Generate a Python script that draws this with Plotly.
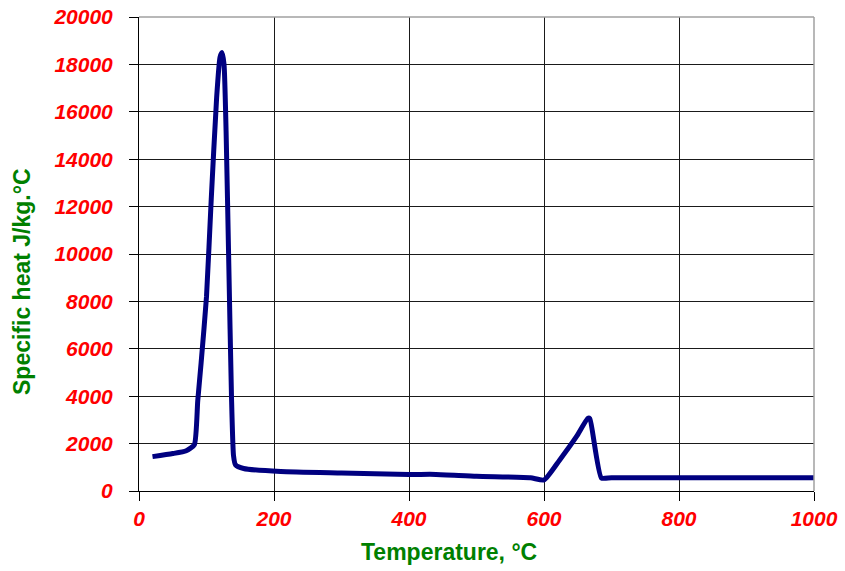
import plotly.graph_objects as go

temperature = [20, 50, 70, 82, 87, 92, 100, 107, 115, 120, 123, 126, 129, 133, 137, 140, 143, 155,
               210, 300, 400, 440, 500, 580, 600, 623, 648, 665, 668, 685, 700, 1000]
specific_heat = [1450, 1580, 1700, 1950, 3800, 5400, 8200, 12300, 16600, 18300, 18500, 18000, 15200, 9600, 4000, 1500, 1100, 950,
                 820, 760, 700, 700, 620, 560, 465, 1300, 2290, 3070, 3050, 550, 560, 560]

x_ticks = [0, 200, 400, 600, 800, 1000]
y_ticks = [0, 2000, 4000, 6000, 8000, 10000, 12000, 14000, 16000, 18000, 20000]

tick_font = dict(family="Liberation Sans, Arial, sans-serif", size=21, color="#FF0000",
                 weight="bold", style="italic")
title_font = dict(family="Liberation Sans, Arial, sans-serif", size=23, color="#008000", weight="bold")

fig = go.Figure()
fig.add_trace(go.Scatter(x=temperature, y=specific_heat, mode="lines",
                         line=dict(color="#000080", width=5, shape="spline", smoothing=0.5),
                         hoverinfo="skip"))

fig.update_layout(
    width=845, height=571,
    margin=dict(l=139, r=31, t=17, b=80, autoexpand=False),
    paper_bgcolor="white", plot_bgcolor="white",
    showlegend=False,
    xaxis=dict(range=[0, 1000], tickvals=x_ticks, ticktext=[str(v) for v in x_ticks],
               showgrid=True, gridcolor="#1a1a1a", gridwidth=1,
               showline=True, linecolor="black", linewidth=1,
               ticks="outside", ticklen=9, tickcolor="black", tickwidth=1,
               tickfont=tick_font, zeroline=False, automargin=False),
    yaxis=dict(range=[0, 20000], tickvals=y_ticks, ticktext=[str(v) for v in y_ticks],
               showgrid=True, gridcolor="#1a1a1a", gridwidth=1,
               showline=True, linecolor="black", linewidth=1,
               ticks="outside", ticklen=9, tickcolor="black", tickwidth=1,
               ticklabelstandoff=12,
               tickfont=tick_font, zeroline=False, automargin=False),
    shapes=[
        dict(type="line", xref="paper", yref="paper", x0=0, x1=1, y0=1, y1=1,
             line=dict(color="#a0a0a0", width=1.5), layer="above"),
        dict(type="line", xref="paper", yref="paper", x0=1, x1=1, y0=0, y1=1,
             line=dict(color="#a0a0a0", width=1.5), layer="above"),
    ],
    annotations=[
        dict(text="Temperature, °C", xref="paper", yref="paper", x=(449 - 139) / 675, y=-(552 - 491) / 474,
             xanchor="center", yanchor="middle", showarrow=False, font=title_font),
        dict(text="Specific heat J/kg.°C", xref="paper", yref="paper", x=-(139 - 22) / 675, y=(491 - 282) / 474,
             xanchor="center", yanchor="middle", showarrow=False, textangle=-90, font=title_font),
    ],
)

fig.write_html("out.html")
